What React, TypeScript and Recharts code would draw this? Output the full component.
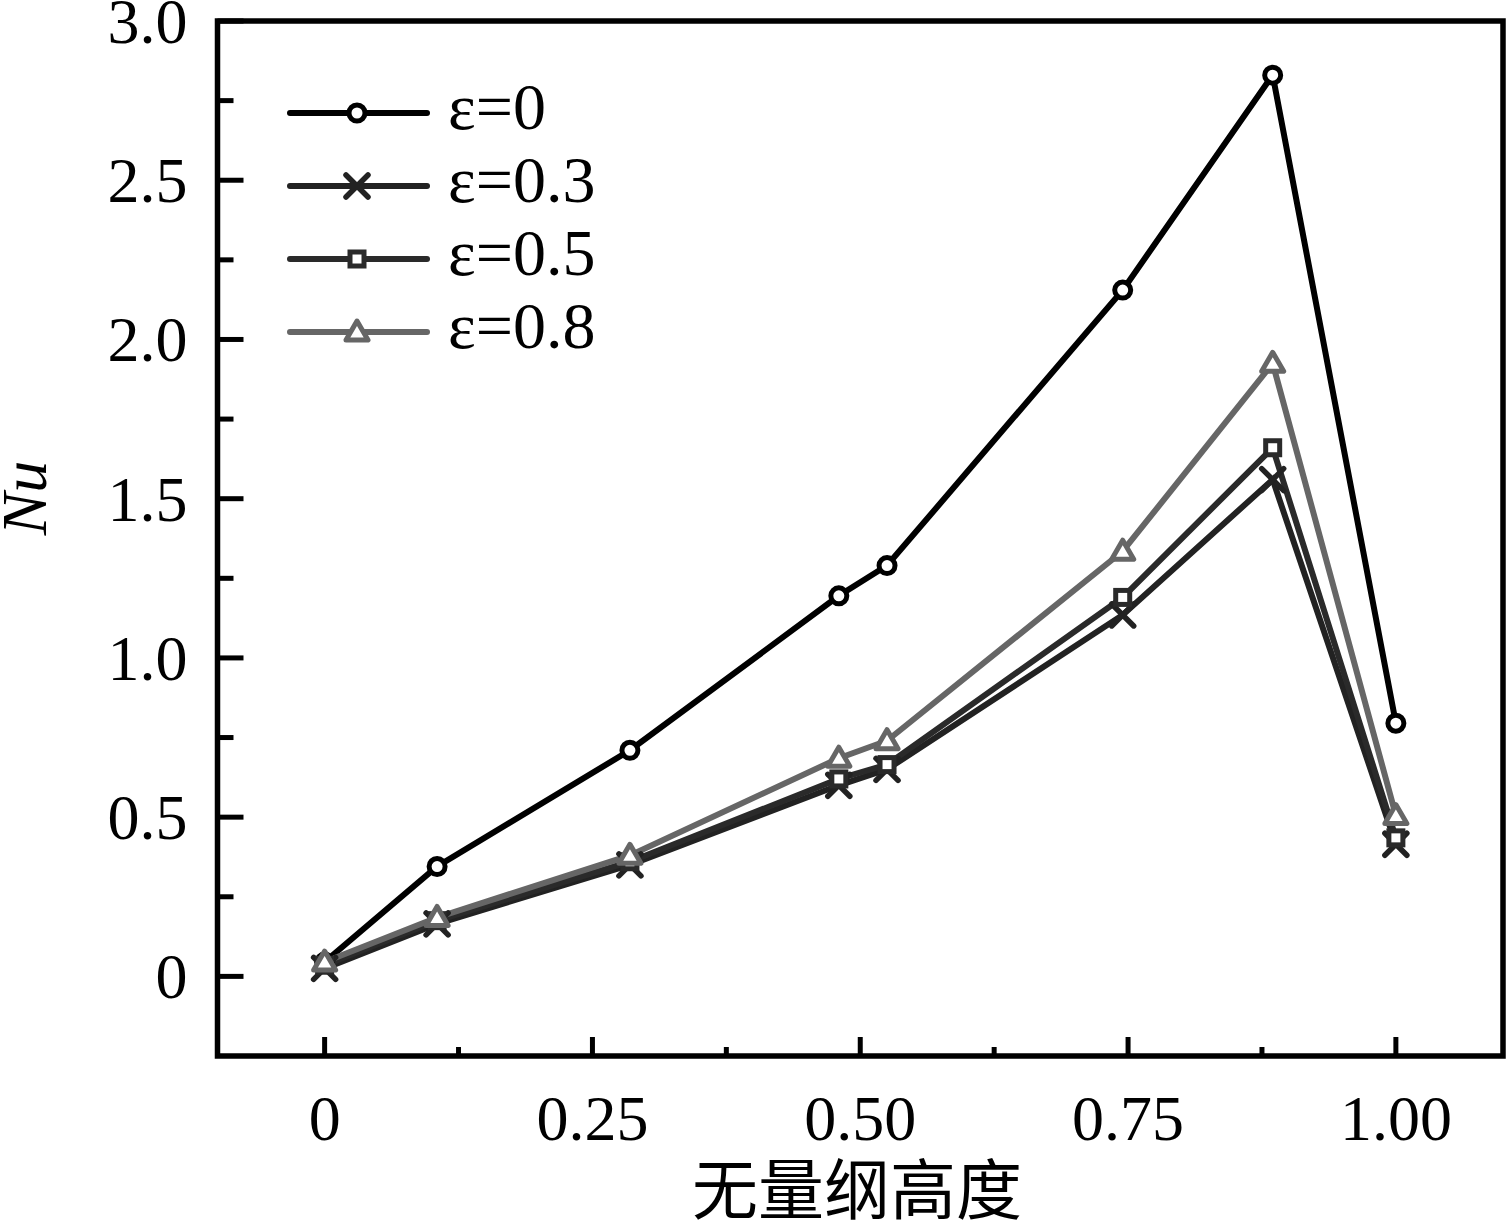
import React from 'react';
import { LineChart, Line, XAxis, YAxis, ReferenceArea, Legend } from 'recharts';

// dimensionless height (x) and Nu for each emissivity
const heights = [0, 0.105, 0.285, 0.48, 0.525, 0.745, 0.885, 1.0];
const nuEps0 = [0.045, 0.345, 0.71, 1.195, 1.29, 2.155, 2.83, 0.795];
const nuEps03 = [0.025, 0.165, 0.35, 0.6, 0.65, 1.135, 1.56, 0.415];
const nuEps05 = [0.035, 0.175, 0.36, 0.62, 0.665, 1.19, 1.66, 0.435];
const nuEps08 = [0.045, 0.185, 0.38, 0.685, 0.74, 1.335, 1.925, 0.505];

const xTicks = [0, 0.125, 0.25, 0.375, 0.5, 0.625, 0.75, 0.875, 1.0];
const xTickLabels: Record<string, string> = { '0': '0', '0.25': '0.25', '0.5': '0.50', '0.75': '0.75', '1': '1.00' };
const yTicks = [0, 0.25, 0.5, 0.75, 1, 1.25, 1.5, 1.75, 2, 2.25, 2.5, 2.75, 3];
const yTickLabels: Record<string, string> = { '0': '0', '0.5': '0.5', '1': '1.0', '1.5': '1.5', '2': '2.0', '2.5': '2.5', '3': '3.0' };

const seriesNames = ['ε=0', 'ε=0.3', 'ε=0.5', 'ε=0.8'];
const seriesKeys = ['e0', 'e03', 'e05', 'e08'];
const seriesColors = ['#000000', '#222222', '#2a2a2a', '#666666'];
const seriesMarkers = ['circle', 'cross', 'square', 'triangle'];

const data = heights.map((h, i) => ({
  h,
  e0: nuEps0[i],
  e03: nuEps03[i],
  e05: nuEps05[i],
  e08: nuEps08[i],
}));

const SERIF = "'Liberation Serif', 'Times New Roman', serif";

function Marker({ kind, cx, cy, color }: { kind: string; cx: number; cy: number; color: string }) {
  if (cx == null || cy == null) return null;
  if (kind === 'circle') {
    return <circle cx={cx} cy={cy} r={8} fill="#fff" stroke={color} strokeWidth={5} />;
  }
  if (kind === 'cross') {
    return (
      <g stroke={color} strokeWidth={5.5} strokeLinecap="round">
        <line x1={cx - 11} y1={cy - 11} x2={cx + 11} y2={cy + 11} />
        <line x1={cx - 11} y1={cy + 11} x2={cx + 11} y2={cy - 11} />
      </g>
    );
  }
  if (kind === 'square') {
    return <rect x={cx - 7} y={cy - 7} width={14} height={14} fill="#fff" stroke={color} strokeWidth={5} />;
  }
  return (
    <path
      d={`M${cx},${cy - 11} L${cx + 11},${cy + 8} L${cx - 11},${cy + 8} Z`}
      fill="#fff"
      stroke={color}
      strokeWidth={5}
      strokeLinejoin="round"
    />
  );
}

const XTick = (props: any) => {
  const { x, y, payload } = props;
  const label = xTickLabels[String(payload.value)];
  const major = label !== undefined;
  return (
    <g>
      <line x1={x} x2={x} y1={y} y2={y - (major ? 19 : 9)} stroke="#000" strokeWidth={5} />
      {major && (
        <text x={x} y={y + 84} textAnchor="middle" fontSize={64} fontFamily={SERIF} fill="#000">
          {label}
        </text>
      )}
    </g>
  );
};

const YTick = (props: any) => {
  const { x, y, payload } = props;
  const label = yTickLabels[String(payload.value)];
  const major = label !== undefined;
  return (
    <g>
      <line x1={x} x2={x + (major ? 26 : 16)} y1={y} y2={y} stroke="#000" strokeWidth={5} />
      {major && (
        <text x={x - 30} y={y + 22} textAnchor="end" fontSize={64} fontFamily={SERIF} fill="#000">
          {label}
        </text>
      )}
    </g>
  );
};

const renderLegend = () => (
  <svg width={380} height={300}>
    {seriesNames.map((name, i) => {
      const y = 43 + i * 73;
      return (
        <g key={name}>
          <line x1={20} x2={157} y1={y} y2={y} stroke={seriesColors[i]} strokeWidth={6} strokeLinecap="round" />
          <Marker kind={seriesMarkers[i]} cx={87} cy={y} color={seriesColors[i]} />
          <text x={178} y={y + 16} fontSize={66} fontFamily={SERIF} fill="#000">
            {name}
          </text>
        </g>
      );
    })}
  </svg>
);

export default function App() {
  return (
    <div style={{ width: 1506, height: 1224 }}>
      <style>{'body{margin:0}'}</style>
      <LineChart
        width={1506}
        height={1224}
        data={data}
        margin={{ top: 21, right: 3, bottom: 68, left: 97.5 }}
      >
        <ReferenceArea
          x1={-0.1}
          x2={1.1}
          y1={-0.25}
          y2={3}
          fill="none"
          stroke="#000"
          strokeWidth={5.5}
          ifOverflow="visible"
        />
        <XAxis
          dataKey="h"
          type="number"
          domain={[-0.1, 1.1]}
          ticks={xTicks}
          interval={0}
          allowDataOverflow
          axisLine={false}
          tickLine={false}
          tickSize={0}
          tickMargin={0}
          height={100}
          tick={XTick}
          label={{
            content: () => (
              <text x={857} y={1214} textAnchor="middle" fontSize={66} fontFamily="'Noto Sans CJK SC', sans-serif" fill="#000">
                无量纲高度
              </text>
            ),
          }}
        />
        <YAxis
          type="number"
          domain={[-0.25, 3]}
          ticks={yTicks}
          interval={0}
          allowDataOverflow
          axisLine={false}
          tickLine={false}
          tickSize={0}
          tickMargin={0}
          width={120}
          tick={YTick}
          label={{
            content: () => (
              <text
                x={46}
                y={498}
                transform="rotate(-90, 46, 498)"
                textAnchor="middle"
                fontSize={64}
                fontStyle="italic"
                fontFamily={SERIF}
                fill="#000"
              >
                Nu
              </text>
            ),
          }}
        />
        <Legend
          layout="vertical"
          align="center"
          verticalAlign="middle"
          content={renderLegend}
          wrapperStyle={{ left: 270, top: 70, width: 380, height: 300 }}
        />
        {seriesKeys.map((key, i) => (
          <Line
            key={key}
            dataKey={key}
            name={seriesNames[i]}
            type="linear"
            stroke={seriesColors[i]}
            strokeWidth={6}
            isAnimationActive={false}
            activeDot={false}
            dot={(p: any) => (
              <Marker key={`${key}-${p.index}`} kind={seriesMarkers[i]} cx={p.cx} cy={p.cy} color={seriesColors[i]} />
            )}
          />
        ))}
      </LineChart>
    </div>
  );
}
